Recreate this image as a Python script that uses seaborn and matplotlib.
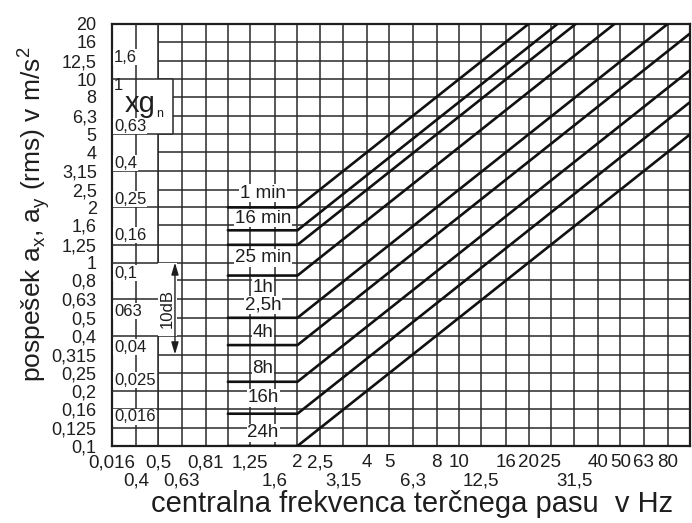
import matplotlib
matplotlib.use("Agg")
import matplotlib.pyplot as plt
import seaborn as sns
import pandas as pd

# ---------------- data ----------------
grid_freqs = [0.315, 0.4, 0.5, 0.63, 0.8, 1, 1.25, 1.6, 2, 2.5, 3.15, 4, 5, 6.3,
              8, 10, 12.5, 16, 20, 25, 31.5, 40, 50, 63, 80, 100]
grid_acc = [0.1, 0.125, 0.16, 0.2, 0.25, 0.315, 0.4, 0.5, 0.63, 0.8, 1, 1.25,
            1.6, 2, 2.5, 3.15, 4, 5, 6.3, 8, 10, 12.5, 16, 20]
acc_labels = ["0,1", "0,125", "0,16", "0,2", "0,25", "0,315", "0,4", "0,5", "0,63",
              "0,8", "1", "1,25", "1,6", "2", "2,5", "3,15", "4", "5", "6,3", "8",
              "10", "12,5", "16", "20"]
xt_row1 = [0.315, 0.5, 0.8, 1.25, 2, 2.5, 4, 5, 8, 10, 16, 20, 25, 40, 50, 63, 80]
xt_row1_lab = ["0,016", "0,5", "0,81", "1,25", "2", "2,5", "4", "5", "8", "10",
               "16", "20", "25", "40", "50", "63", "80"]
xt_row2 = [0.4, 0.63, 1.6, 3.15, 6.3, 12.5, 31.5]
xt_row2_lab = ["0,4", "0,63", "1,6", "3,15", "6,3", "12,5", "31,5"]

durations = ["1 min", "16 min", "25 min", "1h", "2,5h", "4h", "8h", "16h", "24h"]
flat_acc = [2.0, 1.5, 1.25, 0.85, 0.5, 0.355, 0.224, 0.15, 0.1]   # m/s2, 1-2 Hz
curve_freqs = [1, 2, 100]
dur_label_y = [2.39, 1.75, 1.06, 0.735, 0.586, 0.418, 0.266, 0.183, 0.118]

g_labels = ["1,6", "0,63", "0,4", "0,25", "0,16", "0,1", "063", "0,04", "0,025", "0,016"]
g_label_y = [13.2, 5.54, 3.49, 2.22, 1.41, 0.877, 0.544, 0.346, 0.229, 0.144]
col_lines = [10, 5, 3.15, 2, 1.25, 1.0, 0.63, 0.4, 0.2, 0.16, 0.125]

rows = []
for d, a0 in zip(durations, flat_acc):
    for f in curve_freqs:
        a = a0 if f <= 2 else a0 * f / 2
        rows.append({"f": f, "a": a, "dur": d})
df = pd.DataFrame(rows)

# ---------------- style ----------------
sns.set_theme(style="white")
plt.rcParams["font.family"] = ["Liberation Sans", "DejaVu Sans"]
plt.rcParams["mathtext.fontset"] = "custom"
plt.rcParams["mathtext.rm"] = "Liberation Sans"
ink = "#1e1e1e"
gcol = "#2a2a2a"

fig = plt.figure(figsize=(6.92, 5.23), dpi=100)
ax = fig.add_axes([112 / 692, 1 - 446 / 523, (690 - 112) / 692, (446 - 24) / 523])
ax.set_xscale("log")
ax.set_yscale("log")
ax.set_xlim(0.315, 100)
ax.set_ylim(0.1, 20)

# grid
ax.vlines(grid_freqs, 0.1, 20, color=gcol, lw=1.1, zorder=1)
ax.hlines(grid_acc, 0.315, 100, color=gcol, lw=1.1, zorder=1)

# left column with xg_n scale
ax.fill_between([0.315, 0.5], 0.1, 20, color="white", lw=0, zorder=2)
ax.fill_between([0.315, 0.58], 5, 10, color="white", lw=0, zorder=2)
ax.fill_between([0.47, 0.6], 0.4, 1.0, color="white", lw=0, zorder=2)
ax.hlines(col_lines, 0.315, 0.5, color=gcol, lw=1.1, zorder=3)
ax.vlines([0.4], 0.1, 20, color=gcol, lw=1.1, zorder=3)
ax.hlines([10, 5], 0.5, 0.58, color=gcol, lw=1.1, zorder=3)
ax.vlines([0.58], 5, 10, color=gcol, lw=1.1, zorder=3)
ax.vlines([0.5, 0.5, 0.5], [0.1, 1.0, 10], [0.4, 5, 20], color=gcol, lw=1.1, zorder=3)

for lab, y in zip(g_labels, g_label_y):
    ax.text(0.321, y, lab, fontsize=12, color=ink, ha="left", va="center", zorder=5,
            bbox=dict(facecolor="white", edgecolor="none", pad=0.5))
ax.text(0.321, 9.27, "1", fontsize=12, color=ink, ha="left", va="center", zorder=5)
ax.text(0.358, 6.6, "xg", fontsize=21, color=ink, ha="left", va="baseline", zorder=5)
ax.text(0.487, 6.45, "n", fontsize=9, color=ink, ha="left", va="center", zorder=5)
ax.text(0.548, 0.56, "10dB", fontsize=12, color=ink, rotation=90, ha="center",
        va="center", zorder=5)
ax.annotate("", xy=(0.59, 0.316), xytext=(0.59, 1.0), zorder=5,
            arrowprops=dict(arrowstyle="<|-|>,head_length=0.6,head_width=0.18",
                            color=ink, lw=1.0, shrinkA=0, shrinkB=0))

# duration labels
for lab, y in zip(durations, dur_label_y):
    ax.text(1.42, y, lab, fontsize=13.5, color=ink, ha="center", va="center", zorder=5,
            bbox=dict(facecolor="white", edgecolor="none", pad=0.6))

# curves
sns.lineplot(data=df, x="f", y="a", hue="dur", hue_order=durations,
             palette=["#111111"] * len(durations), estimator=None, sort=False,
             legend=False, lw=1.9, ax=ax, zorder=6)

# ticks
ax.set_yticks(grid_acc)
ax.set_yticklabels(acc_labels)
ax.yaxis.set_minor_locator(matplotlib.ticker.NullLocator())
ax.set_xticks(xt_row1)
ax.set_xticklabels(xt_row1_lab)
ax.set_xticks(xt_row2, minor=True)
ax.set_xticklabels(xt_row2_lab, minor=True)
ax.tick_params(axis="both", which="both", length=0, labelsize=13.5, colors=ink)
ax.tick_params(axis="y", pad=11, labelsize=13)
ax.tick_params(axis="x", which="major", pad=6)
ax.tick_params(axis="x", which="minor", pad=19)
ax.set_xlabel("")
ax.set_ylabel("")
for s in ax.spines.values():
    s.set_color(ink)
    s.set_linewidth(1.6)
    s.set_visible(True)

fig.text(34 / 692, 1 - 214 / 523,
         r"pospešek a$_\mathregular{x}$, a$_\mathregular{y}$ (rms) v m/s$^\mathregular{2}$",
         rotation=90, fontsize=19, color=ink, ha="center", va="center")
fig.text(412 / 692, 1 - 504 / 523, "centralna frekvenca terčnega pasu  v Hz",
         fontsize=21, color=ink, ha="center", va="center")

fig.savefig("out.png", dpi=100)
